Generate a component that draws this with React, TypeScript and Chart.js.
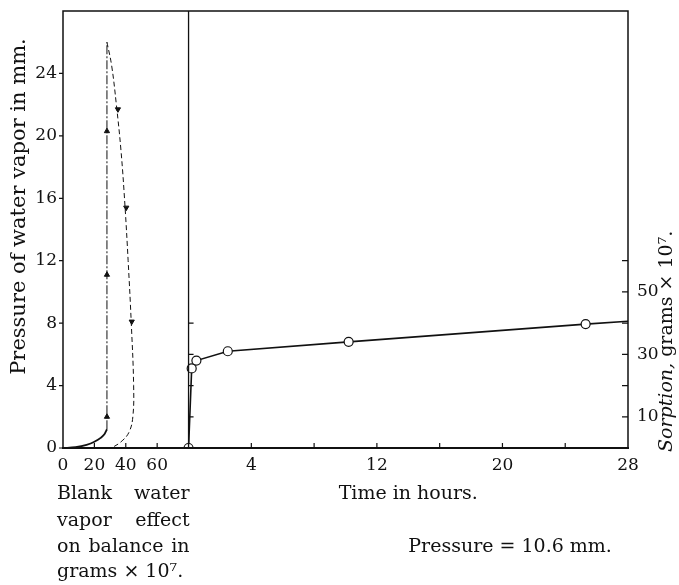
import React, { useEffect, useRef } from "react";
import { Chart, registerables } from "chart.js";

Chart.register(...registerables);

const FONT = "'DejaVu Serif', 'Liberation Serif', serif";
const INK = "#111";

// ---- Left panel: blank water vapor effect (grams x 10^7) vs pressure (mm) ----
const blankRiseX = [0, 8, 15, 20, 24, 26.5, 28];
const blankRiseY = [0, 0.05, 0.2, 0.4, 0.65, 0.9, 1.2];
const blankUpX = [28, 28];
const blankUpY = [1.2, 26];
const blankDownX = [28, 31, 34, 37, 39.5, 41.5, 43.5, 45, 44.5, 42, 37, 31];
const blankDownY = [26, 24.5, 22, 19, 15.5, 12, 8, 4, 2, 1, 0.4, 0];
const arrowUpX = [28, 28, 28];
const arrowUpY = [2, 11.1, 20.3];
const arrowDownX = [35, 40.3, 43.8];
const arrowDownY = [21.7, 15.4, 8.1];

// ---- Right panel: sorption (grams x 10^7) vs time (hours) ----
const timeHours = [0, 0.2, 0.5, 2.5, 10.2, 25.3, 28];
const sorption = [0, 25.5, 28, 31, 34, 39.7, 40.6];
const observedHours = [0, 0.2, 0.5, 2.5, 10.2, 25.3];
const observedSorption = [0, 25.5, 28, 31, 34, 39.7];

// ---- Ticks ----
const pressureTicks = [0, 4, 8, 12, 16, 20, 24];
const blankTicks = [0, 20, 40, 60];
const blankMinorTicks = [20, 40, 60];
const hourTicks = [4, 12, 20, 28];
const hourMinorTicks = [4, 8, 12, 16, 20, 24];
const sorptionTicks = [10, 30, 50];
const sorptionMinorTicks = [10, 20, 30, 40, 50, 60];
const dividerTicks = [10, 20, 30, 40];

// shared horizontal axis: blank panel 0..80, then 10 units per hour
const BLANK_MAX = 80;
const HOUR_SCALE = 10;
const HOURS_MAX = 28;
const PRESSURE_MAX = 28;
const SORPTION_MAX = 140;
const toShared = (h: number) => BLANK_MAX + h * HOUR_SCALE;

const zip = (xs: number[], ys: number[]) => xs.map((x, i) => ({ x, y: ys[i] }));

const framePlugin = {
  id: "frameAndText",
  afterDraw(chart: any) {
    const { ctx, chartArea: a, scales } = chart;
    const x = scales.x, y = scales.y, y2 = scales.y2;
    ctx.save();
    ctx.strokeStyle = INK;
    // frame
    ctx.lineWidth = 1.5;
    ctx.beginPath();
    ctx.moveTo(a.left, a.bottom); ctx.lineTo(a.left, a.top);
    ctx.lineTo(a.right, a.top); ctx.lineTo(a.right, a.bottom);
    ctx.stroke();
    ctx.lineWidth = 2;
    ctx.beginPath();
    ctx.moveTo(a.left - 1, a.bottom); ctx.lineTo(a.right + 1, a.bottom);
    ctx.stroke();
    // divider
    const xd = x.getPixelForValue(BLANK_MAX);
    ctx.lineWidth = 1.3;
    ctx.beginPath();
    ctx.moveTo(xd, a.top); ctx.lineTo(xd, a.bottom);
    ctx.stroke();
    // ticks
    ctx.lineWidth = 1.2;
    ctx.beginPath();
    pressureTicks.forEach((v) => {
      const py = y.getPixelForValue(v);
      ctx.moveTo(a.left - 4, py); ctx.lineTo(a.left, py);
    });
    blankMinorTicks.forEach((v) => {
      const px = x.getPixelForValue(v);
      ctx.moveTo(px, a.bottom); ctx.lineTo(px, a.bottom - 5);
    });
    hourMinorTicks.forEach((h) => {
      const px = x.getPixelForValue(toShared(h));
      ctx.moveTo(px, a.bottom); ctx.lineTo(px, a.bottom - 5);
    });
    sorptionMinorTicks.forEach((v) => {
      const py = y2.getPixelForValue(v);
      ctx.moveTo(a.right, py); ctx.lineTo(a.right - 6, py);
    });
    dividerTicks.forEach((v) => {
      const py = y2.getPixelForValue(v);
      ctx.moveTo(xd, py); ctx.lineTo(xd + 5, py);
    });
    ctx.stroke();

    // texts
    ctx.fillStyle = INK;
    ctx.font = `19px ${FONT}`;
    ctx.textBaseline = "middle";
    const midRight = x.getPixelForValue(toShared(HOURS_MAX / 2));
    ctx.textAlign = "center";
    ctx.fillText("Time in hours.", midRight, a.bottom + 46);
    ctx.textAlign = "left";
    ctx.fillText("Pressure = 10.6 mm.", midRight, a.bottom + 99);

    const left = a.left - 6;
    const right = xd + 1;
    const justify = (words: string[], yy: number) => {
      const ws = words.map((w) => ctx.measureText(w).width);
      const total = ws.reduce((s, v) => s + v, 0);
      const gap = (right - left - total) / (words.length - 1);
      let cx = left;
      words.forEach((w, i) => { ctx.fillText(w, cx, yy); cx += ws[i] + gap; });
    };
    justify(["Blank", "water"], a.bottom + 46);
    justify(["vapor", "effect"], a.bottom + 73);
    justify(["on", "balance", "in"], a.bottom + 99);
    ctx.fillText("grams \u00d7 10\u2077.", left, a.bottom + 124);

    // left axis title, reading bottom to top
    ctx.save();
    ctx.translate(20, (a.top + a.bottom) / 2 - 23);
    ctx.rotate(-Math.PI / 2);
    ctx.textAlign = "center";
    ctx.font = `21px ${FONT}`;
    ctx.fillText("Pressure of water vapor in mm.", 0, 0);
    ctx.restore();

    // right axis title, reading bottom to top
    ctx.translate(667, a.bottom + 4);
    ctx.rotate(-Math.PI / 2);
    ctx.textAlign = "left";
    ctx.font = `italic 19px ${FONT}`;
    ctx.fillText("Sorption,", 0, 0);
    const w1 = ctx.measureText("Sorption,").width;
    ctx.font = `19px ${FONT}`;
    ctx.fillText(" grams \u00d7 10\u2077.", w1, 0);
    ctx.restore();
  },
};

const tickFont = { family: FONT, size: 17 };

export default function App() {
  const ref = useRef<HTMLCanvasElement | null>(null);
  useEffect(() => {
    if (!ref.current) return;
    const chart = new Chart(ref.current, {
      type: "scatter",
      data: {
        datasets: [
          {
            label: "observed",
            data: zip(observedHours.map(toShared), observedSorption),
            xAxisID: "x", yAxisID: "y2",
            showLine: false,
            pointRadius: 4.5,
            pointBackgroundColor: "#fff",
            pointBorderColor: INK,
            pointBorderWidth: 1.2,
            order: 0,
          },
          {
            label: "sorption",
            data: zip(timeHours.map(toShared), sorption),
            xAxisID: "x", yAxisID: "y2",
            showLine: true,
            borderColor: INK,
            borderWidth: 1.6,
            pointRadius: 0,
            order: 1,
          },
          {
            label: "arrowsUp",
            data: zip(arrowUpX, arrowUpY),
            xAxisID: "x", yAxisID: "y",
            showLine: false,
            pointStyle: "triangle",
            pointRadius: 3,
            pointBackgroundColor: INK,
            pointBorderColor: INK,
            order: 0,
          },
          {
            label: "arrowsDown",
            data: zip(arrowDownX, arrowDownY),
            xAxisID: "x", yAxisID: "y",
            showLine: false,
            pointStyle: "triangle",
            rotation: 180,
            pointRadius: 3,
            pointBackgroundColor: INK,
            pointBorderColor: INK,
            order: 0,
          },
          {
            label: "blankRise",
            data: zip(blankRiseX, blankRiseY),
            xAxisID: "x", yAxisID: "y",
            showLine: true,
            borderColor: INK,
            borderWidth: 1.8,
            pointRadius: 0,
            cubicInterpolationMode: "monotone",
            order: 1,
          },
          {
            label: "blankUp",
            data: zip(blankUpX, blankUpY),
            xAxisID: "x", yAxisID: "y",
            showLine: true,
            borderColor: INK,
            borderWidth: 1,
            borderDash: [9, 2, 2, 2],
            pointRadius: 0,
            order: 1,
          },
          {
            label: "blankDown",
            data: zip(blankDownX, blankDownY),
            xAxisID: "x", yAxisID: "y",
            showLine: true,
            borderColor: INK,
            borderWidth: 1,
            borderDash: [5, 3],
            pointRadius: 0,
            tension: 0.4,
            order: 1,
          },
        ],
      },
      options: {
        responsive: false,
        animation: false,
        devicePixelRatio: 1,
        layout: { padding: { top: 11, left: 0, right: 0, bottom: 0 } },
        plugins: { legend: { display: false }, tooltip: { enabled: false } },
        scales: {
          x: {
            type: "linear",
            position: "bottom",
            min: 0,
            max: toShared(HOURS_MAX),
            afterBuildTicks: (s: any) => {
              s.ticks = [...blankTicks, ...hourTicks.map(toShared)].map((v) => ({ value: v }));
            },
            afterFit: (s: any) => {
              s.height = 137; s.paddingLeft = 0; s.paddingRight = 0;
            },
            grid: { display: false, drawTicks: false },
            border: { display: false },
            ticks: {
              autoSkip: false,
              maxRotation: 0,
              padding: 7,
              color: INK,
              font: tickFont,
              callback: (v: any) => {
                const n = Number(v);
                return n <= BLANK_MAX ? String(n) : String(Math.round((n - BLANK_MAX) / HOUR_SCALE));
              },
            },
          },
          y: {
            type: "linear",
            position: "left",
            min: 0,
            max: PRESSURE_MAX,
            afterBuildTicks: (s: any) => { s.ticks = pressureTicks.map((v) => ({ value: v })); },
            afterFit: (s: any) => { s.width = 63; s.paddingTop = 0; s.paddingBottom = 0; },
            grid: { display: false, drawTicks: false },
            border: { display: false },
            ticks: { padding: 6, color: INK, font: tickFont },
          },
          y2: {
            type: "linear",
            position: "right",
            min: 0,
            max: SORPTION_MAX,
            afterBuildTicks: (s: any) => { s.ticks = sorptionTicks.map((v) => ({ value: v })); },
            afterFit: (s: any) => { s.width = 51; s.paddingTop = 0; s.paddingBottom = 0; },
            grid: { display: false, drawTicks: false },
            border: { display: false },
            ticks: { padding: 9, color: INK, font: tickFont },
          },
        },
      },
      plugins: [framePlugin],
    } as any);
    return () => chart.destroy();
  }, []);
  return (
    <div style={{ position: "fixed", left: 0, top: 0, width: 679, height: 585, background: "#fff" }}>
      <canvas ref={ref} width={679} height={585} style={{ display: "block" }} />
    </div>
  );
}
